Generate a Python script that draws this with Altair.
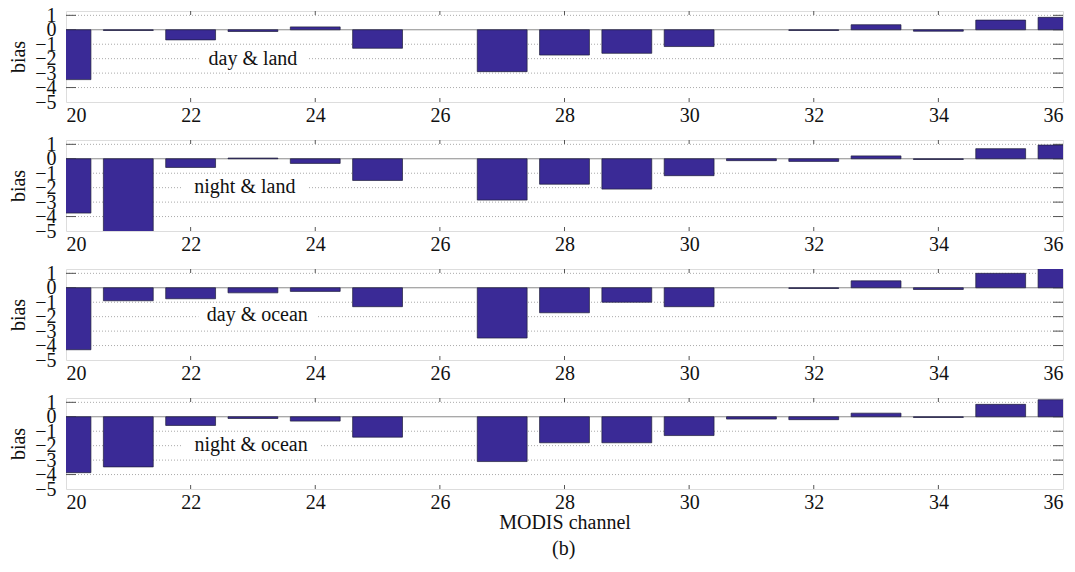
import altair as alt
import pandas as pd

channels = list(range(20, 37))
panel_names = ["day & land", "night & land", "day & ocean", "night & ocean"]

day_land = [-3.45, -0.05, -0.70, -0.12, 0.20, -1.28, None, -2.90, -1.75, -1.63, -1.16, None, -0.05, 0.35, -0.10, 0.67, 0.86]
night_land = [-3.76, -5.30, -0.60, 0.05, -0.32, -1.50, None, -2.86, -1.76, -2.10, -1.17, -0.13, -0.18, 0.20, -0.05, 0.70, 0.95]
day_ocean = [-4.29, -0.90, -0.76, -0.35, -0.25, -1.31, None, -3.48, -1.73, -1.00, -1.31, None, -0.05, 0.48, -0.12, 1.00, 1.45]
night_ocean = [-3.87, -3.47, -0.60, -0.12, -0.30, -1.41, None, -3.10, -1.80, -1.80, -1.30, -0.16, -0.20, 0.25, -0.05, 0.86, 1.18]
series = [day_land, night_land, day_ocean, night_ocean]

label_x = [23.0, 22.87, 23.07, 22.97]
label_y = [-2.05, -1.97, -1.9, -1.94]

x_ticks = [20, 22, 24, 26, 28, 30, 32, 34, 36]
y_ticks = [1, 0, -1, -2, -3, -4, -5]
grid_y = [1, -1, -2, -3, -4]
inner_x_ticks = [22, 24, 26, 28, 30, 32, 34]
inner_y_ticks = [1, 0, -1, -2, -3, -4]

W, H = 997, 91
FONT = "Times New Roman, Liberation Serif, DejaVu Serif, serif"
BAR = "#3a2a96"
BORDER = "#555555"
TXT = "#111111"

xscale = alt.Scale(domain=[20, 36], nice=False, zero=False)
yscale = alt.Scale(domain=[-5, 1.3], nice=False, zero=False)


def panel(i, last):
    vals = series[i]
    df = pd.DataFrame({"channel": channels, "bias": vals}).dropna()
    xaxis = alt.Axis(values=x_ticks, grid=False, ticks=False, domain=False,
                     labelPadding=3, format="d", labelFont=FONT, labelFontSize=20,
                     labelColor=TXT, titleFont=FONT, titleFontSize=20,
                     titleFontWeight="normal", titleColor=TXT, titlePadding=0,
                     title="MODIS channel" if last else None)
    yaxis = alt.Axis(values=y_ticks, grid=False, ticks=False, domain=False, labelPadding=10,
                     labelOverlap=False, title="bias", format="d",
                     labelFont=FONT, labelFontSize=20, labelColor=TXT,
                     titleFont=FONT, titleFontSize=20, titleFontWeight="normal",
                     titleColor=TXT, minExtent=34, maxExtent=34, titlePadding=4)

    gdf = pd.DataFrame({"g": grid_y})
    grid = alt.Chart(gdf).mark_rule(color="#aaaaaa", strokeDash=[1, 2], strokeWidth=1).encode(
        y=alt.Y("g:Q", scale=yscale, axis=yaxis), x=alt.value(0), x2=alt.value(W)
    )
    zero = alt.Chart(pd.DataFrame({"z": [0]})).mark_rule(color="#8a8a8a", strokeWidth=1).encode(
        y=alt.Y("z:Q", scale=yscale, axis=yaxis)
    )
    tdf = pd.DataFrame({"t": inner_x_ticks})
    xt_top = alt.Chart(tdf).mark_rule(color=BORDER).encode(
        x=alt.X("t:Q", scale=xscale, axis=xaxis), y=alt.value(0), y2=alt.value(4))
    xt_bot = alt.Chart(tdf).mark_rule(color=BORDER).encode(
        x=alt.X("t:Q", scale=xscale, axis=xaxis), y=alt.value(H - 4), y2=alt.value(H))
    ydf = pd.DataFrame({"v": inner_y_ticks})
    yt_l = alt.Chart(ydf).mark_rule(color=BORDER).encode(
        y=alt.Y("v:Q", scale=yscale, axis=yaxis), x=alt.value(0), x2=alt.value(10))
    yt_r = alt.Chart(ydf).mark_rule(color=BORDER).encode(
        y=alt.Y("v:Q", scale=yscale, axis=yaxis), x=alt.value(W - 10), x2=alt.value(W))

    bars = alt.Chart(df).transform_calculate(
        x0="datum.channel - 0.4", x1="datum.channel + 0.4", base="0"
    ).mark_bar(clip=True, color=BAR, stroke="#1e1e3a", strokeWidth=0.7).encode(
        x=alt.X("x0:Q", scale=xscale, axis=xaxis), x2="x1:Q",
        y=alt.Y("bias:Q", scale=yscale, axis=yaxis), y2="base:Q",
    )

    lab = pd.DataFrame({"x": [label_x[i]], "y": [label_y[i]], "text": [panel_names[i]]})
    bg = alt.Chart(lab).transform_calculate(
        xa="datum.x - length(datum.text) * 0.075 - 0.12",
        xb="datum.x + length(datum.text) * 0.075 + 0.12",
        ya="datum.y - 0.25", yb="datum.y + 0.25",
    ).mark_rect(color="white").encode(
        x=alt.X("xa:Q", scale=xscale, axis=xaxis), x2="xb:Q",
        y=alt.Y("ya:Q", scale=yscale, axis=yaxis), y2="yb:Q",
    )
    txt = alt.Chart(lab).mark_text(font=FONT, fontSize=20, color=TXT, baseline="middle").encode(
        x=alt.X("x:Q", scale=xscale, axis=xaxis), y=alt.Y("y:Q", scale=yscale, axis=yaxis),
        text="text:N"
    )
    return alt.layer(grid, zero, xt_top, xt_bot, yt_l, yt_r, bars, bg, txt).properties(width=W, height=H)


chart = alt.vconcat(
    *[panel(i, i == 3) for i in range(4)], spacing=7
).properties(
    title=alt.TitleParams(text="(b)", orient="bottom", anchor="middle", fontSize=20,
                          font=FONT, fontWeight="normal", color=TXT, offset=6, dx=28),
    padding={"left": 7, "top": 4, "right": 5, "bottom": 5},
    background="white",
).configure_view(
    stroke=BORDER, strokeWidth=1
).configure(
    font=FONT
)

chart.save("out.html", embed_options={"renderer": "svg", "actions": False})
